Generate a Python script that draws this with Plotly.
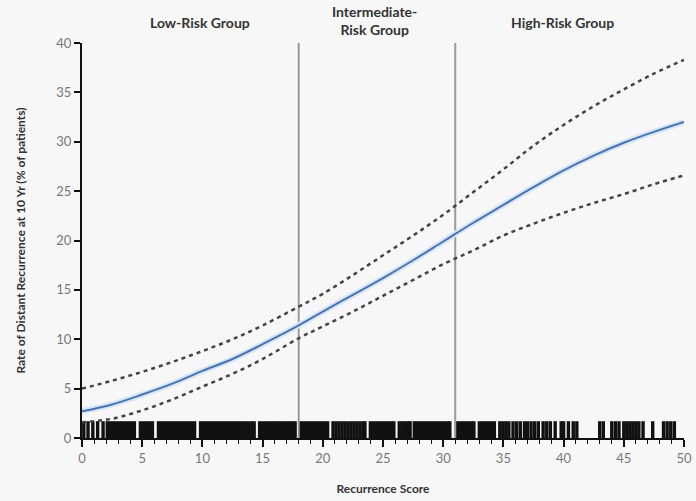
import plotly.graph_objects as go

# ---- data ----
score_pts = [0, 2.5, 5, 7.5, 10, 12.5, 15, 18, 20, 22.5, 25, 27.5, 30, 32.5, 35, 37.5, 40, 42.5, 45, 47.5, 50]
central = [2.7, 3.4, 4.4, 5.5, 6.8, 8.0, 9.5, 11.4, 12.8, 14.5, 16.2, 18.0, 19.9, 21.8, 23.6, 25.4, 27.1, 28.6, 29.9, 31.0, 32.0]
upper = [5.0, 5.8, 6.7, 7.7, 8.8, 10.0, 11.4, 13.3, 14.6, 16.5, 18.5, 20.5, 22.6, 24.9, 27.2, 29.6, 31.7, 33.6, 35.3, 36.9, 38.3]
lower = [1.6, 1.95, 2.8, 3.9, 5.2, 6.5, 8.0, 10.1, 11.3, 12.8, 14.4, 16.0, 17.6, 19.0, 20.5, 21.7, 22.8, 23.8, 24.7, 25.7, 26.6]

rug_scores = [
    0.15, 0.5, 0.9, 1.3, 1.75,
    2.1, 2.35, 2.6, 2.85, 3.1, 3.35, 3.6, 3.85, 4.1, 4.35,
    4.85, 5.1, 5.35, 5.6, 5.85, 6.35, 6.6, 6.85, 7.1, 7.35, 7.6, 7.85,
    8.1, 8.35, 8.6, 8.85, 9.1, 9.35, 9.85, 10.1, 10.35, 10.6, 10.85,
    11.1, 11.35, 11.6, 11.85, 12.1, 12.35, 12.6, 12.85, 13.1, 13.35, 13.6,
    13.85, 14.1, 14.3, 14.75, 15.0, 15.25, 15.5, 15.75, 16.0, 16.25, 16.5,
    16.75, 17.0, 17.25, 17.5, 17.7, 18.15, 18.4, 18.65, 18.9, 19.15, 19.4,
    19.65, 19.9, 20.15, 20.4, 20.85, 21.1, 21.35, 21.6, 21.85, 22.1, 22.35,
    22.6, 22.85, 23.1, 23.35, 23.5, 23.95, 24.2, 24.45, 24.7, 24.95, 25.2,
    25.45, 25.7, 25.9, 26.35, 26.6, 26.85, 27.1, 27.25, 27.6, 27.85, 28.1,
    28.35, 28.6, 28.85, 29.1, 29.35, 29.6, 29.85, 30.1, 30.35, 30.55,
    31.1, 31.35, 31.6, 31.85, 32.1, 32.35, 32.55, 33.0, 33.25, 33.5, 33.75,
    34.0, 34.25, 34.7, 34.95, 35.2, 35.45, 35.8, 36.1, 36.4, 36.75, 37.0,
    37.3, 37.6, 37.9, 38.3, 38.6, 38.9, 39.3, 39.8, 40.0, 40.4, 40.8, 41.1,
    43.0, 43.3, 44.0, 44.3, 44.6, 45.0, 45.25, 45.5, 45.75, 46.0, 46.25, 46.6,
    47.4, 48.3, 48.6, 48.9, 49.2,
]
rug_height = 1.7

group_bounds = [18, 31]
group_labels = ["Low-Risk Group", "Intermediate-<br>Risk Group", "High-Risk Group"]
group_label_x = [9.8, 24.3, 39.9]
group_label_shift = [405, 398, 405]

x_ticks = [0, 5, 10, 15, 20, 25, 30, 35, 40, 45, 50]
y_ticks = [0, 5, 10, 15, 20, 25, 30, 35, 40]

FONT = "Lato, 'Open Sans', sans-serif"

fig = go.Figure()

# rug
rx, ry = [], []
for s in rug_scores:
    rx += [s, s, None]
    ry += [0, rug_height, None]
fig.add_trace(go.Scatter(x=rx, y=ry, mode="lines",
                         line=dict(color="#111111", width=3.4),
                         hoverinfo="skip", cliponaxis=False, showlegend=False))

# group boundaries
for b in group_bounds:
    fig.add_trace(go.Scatter(x=[b, b], y=[0, 40], mode="lines",
                             line=dict(color="#9a9a9a", width=2),
                             hoverinfo="skip", showlegend=False, cliponaxis=False))

# confidence bounds
for arr in (upper, lower):
    fig.add_trace(go.Scatter(x=score_pts, y=arr, mode="lines", line_shape="spline",
                             line=dict(color="#444444", width=2.5, dash="4px,4px"),
                             showlegend=False, cliponaxis=False))

# central halo + line
fig.add_trace(go.Scatter(x=score_pts, y=central, mode="lines", line_shape="spline",
                         line=dict(color="#d6e6f7", width=6),
                         hoverinfo="skip", showlegend=False, cliponaxis=False))
fig.add_trace(go.Scatter(x=score_pts, y=central, mode="lines", line_shape="spline",
                         line=dict(color="#4a74b0", width=2),
                         showlegend=False, cliponaxis=False))

for lab, gx, sh in zip(group_labels, group_label_x, group_label_shift):
    fig.add_annotation(x=gx, xref="x", y=0.0, yref="paper", yshift=sh,
                       text=lab, showarrow=False, yanchor="bottom",
                       font=dict(family=FONT, size=14, color="#333333", weight="bold"))

fig.update_layout(
    width=696, height=501,
    margin=dict(l=82, r=12, t=43, b=63, autoexpand=False),
    paper_bgcolor="#f7f7f7", plot_bgcolor="#f7f7f7",
    font=dict(family=FONT, size=12, color="#666666"),
    xaxis=dict(range=[0, 50], tickvals=x_ticks, showgrid=False, zeroline=False,
               automargin=False,
               showline=True, linecolor="#111111", linewidth=2,
               ticks="outside", ticklen=7, tickwidth=1.5, tickcolor="#111111",
               minor=dict(dtick=1, ticks="outside", ticklen=4, tickwidth=1, tickcolor="#111111"),
               tickfont=dict(size=13, color="#777777"),
               title=dict(text="Recurrence Score", standoff=20,
                          font=dict(size=12, color="#333333", weight="bold"))),
    yaxis=dict(range=[0, 40], tickvals=y_ticks, showgrid=False, zeroline=False,
               automargin=False,
               showline=True, linecolor="#111111", linewidth=2,
               ticks="outside", ticklen=6, tickwidth=1.5, tickcolor="#111111",
               tickfont=dict(size=13, color="#777777"),
               title=dict(text="Rate of Distant Recurrence at 10 Yr (% of patients)", standoff=28,
                          font=dict(size=12, color="#333333", weight="bold"))),
)

fig.write_html("out.html")
